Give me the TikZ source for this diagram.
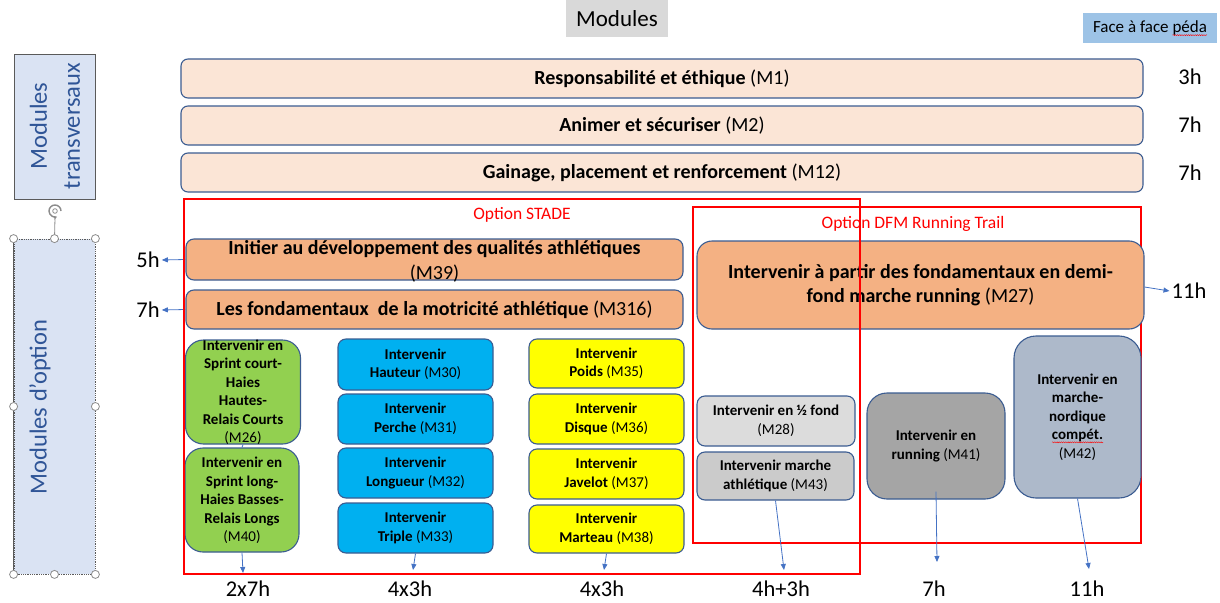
\documentclass[tikz,border=0pt]{standalone}
\usepackage{fontspec}
\setmainfont{Carlito}
\usetikzlibrary{arrows.meta,decorations.pathmorphing}

\definecolor{outl}{HTML}{3B5C91}
\definecolor{peach}{HTML}{FBE5D6}
\definecolor{orng}{HTML}{F4B183}
\definecolor{grn}{HTML}{92D050}
\definecolor{cyanbox}{HTML}{00B0F0}
\definecolor{yel}{HTML}{FFFF00}
\definecolor{grayA}{HTML}{DCDCDC}
\definecolor{grayB}{HTML}{CBCBCB}
\definecolor{grayC}{HTML}{A5A5A5}
\definecolor{slate}{HTML}{ADB9CA}
\definecolor{leftbl}{HTML}{DAE3F3}
\definecolor{lefttxt}{HTML}{2F5597}
\definecolor{hdrgray}{HTML}{D9D9D9}
\definecolor{facebl}{HTML}{9DC3E6}
\definecolor{arrbl}{HTML}{4472C4}
\definecolor{boxgray}{HTML}{5A5A5A}
\definecolor{handlegray}{HTML}{8C8C8C}
\definecolor{frame}{HTML}{FF0000}

% red wavy spell-check underline under a word
\newcommand{\spellmark}[1]{\tikz[baseline=(w.base)]{%
  \node[inner sep=0pt,outer sep=0pt,draw=none,fill=none,anchor=base,
        minimum width=0pt,minimum height=0pt,rotate=0,sharp corners](w){#1};%
  \draw[overlay,sharp corners,solid,draw=frame,fill=none,line width=0.4pt,decorate,
        decoration={snake,amplitude=0.55pt,segment length=2.2pt}]
    ([yshift=-2.6pt]w.base west) -- ([yshift=-2.6pt]w.base east);}}

\tikzset{
  base/.style={draw=outl, line width=1.1pt, inner sep=1pt, align=center, text=black},
  topmod/.style={base, fill=peach, rounded corners=7pt, minimum width=962pt,
    minimum height=39pt, font=\bfseries\fontsize{20}{24}\selectfont},
  widemod/.style={base, fill=orng, rounded corners=8pt,
    font=\bfseries\fontsize{20}{24.5}\selectfont},
  smallfont/.style={font=\bfseries\fontsize{15}{18.5}\selectfont},
  smallmod/.style={base, smallfont, rounded corners=8pt},
  bluemod/.style={smallmod, fill=cyanbox, minimum width=155pt, minimum height=50pt},
  yellowmod/.style={smallmod, fill=yel, minimum width=155pt, minimum height=49pt},
  greenmod/.style={base, fill=grn, rounded corners=18pt, minimum width=115pt, minimum height=104pt},
  boxtext/.style={align=center, inner sep=0pt, text=black},
  hourlbl/.style={font=\fontsize{22.5}{27}\selectfont, inner sep=2pt},
  arr/.style={draw=arrbl, line width=0.8pt, -{Triangle[length=6pt,width=5pt]}},
  redframe/.style={draw=frame, line width=1.4pt, fill=none, inner sep=0pt},
  framelbl/.style={text=frame, font=\fontsize{17.5}{21}\selectfont},
  handle/.style={circle, draw=handlegray, fill=white, line width=0.8pt,
    minimum size=8pt, inner sep=0pt},
  sidetxt/.style={rotate=90, align=center, text=lefttxt, font=\fontsize{24.5}{33}\selectfont}
}

\begin{document}
\begin{tikzpicture}[x=1pt,y=-1pt]
\path[use as bounding box] (0,0) rectangle (1220,602);

% heading tags
\node[fill=hdrgray, minimum width=102pt, minimum height=37pt, inner sep=0pt,
      font=\fontsize{23}{27}\selectfont] (hdr) at (617,18.5) {Modules};
\node[fill=facebl, minimum width=134pt, minimum height=30pt, inner sep=0pt,
      font=\fontsize{17}{20}\selectfont] (face) at (1150,28) {Face à face \spellmark{péda}};

% left side captions
\node[draw=boxgray, line width=0.9pt, fill=leftbl, minimum width=81pt,
      minimum height=145pt, inner sep=0pt] (trans) at (54.5,126.5) {};
\node[sidetxt] (transtxt) at (55,126) {Modules\\transversaux};

\node[fill=leftbl, draw=boxgray, densely dotted, line width=0.8pt, minimum width=81pt,
      minimum height=335pt, inner sep=0pt] (opt) at (54.5,406.5) {};
\draw[boxgray, line width=1pt] (opt.north west) -- (opt.south west);
\node[sidetxt] (opttxt) at (40,407) {Modules d’option};

% selection handles and rotation grip
\coordinate (rot) at (55,211);
\draw[handlegray, line width=0.8pt] (opt.north) -- (55,218);
\draw[handlegray, line width=1.4pt, -{Stealth[length=3.5pt,width=4pt]}]
  (rot) ++(6,0) arc[start angle=0, end angle=290, radius=6pt];
\draw[handlegray, line width=0.8pt] (rot) circle[radius=2.3pt];
\foreach \a in {north west,north,north east,west,east,south west,south,south east}
  \node[handle] (h-\a) at (opt.\a) {};

% transversal modules
\node[topmod] (m1) at (662,78.5) {Responsabilité et éthique \textmd{(M1)}};
\node[topmod] (m2) at (662,125.5) {Animer et sécuriser \textmd{(M2)}};
\node[topmod] (m12) at (662,172.5) {Gainage, placement et renforcement \textmd{(M12)}};
\node[hourlbl] (t1) at (1190,77) {3h};
\node[hourlbl] (t2) at (1190,125) {7h};
\node[hourlbl] (t3) at (1190,173) {7h};

% DFM frame sits behind its boxes
\node[redframe, minimum width=448pt, minimum height=336pt] (dfm) at (917,375) {};
\node[framelbl] (dfmlbl) at (913,224) {Option DFM Running Trail};

% option STADE: wide modules
\node[widemod, minimum width=497pt, minimum height=41pt] (m39) at (434.5,259.5) {};
\node[boxtext, font=\bfseries\fontsize{20}{25}\selectfont] (m39t) at (434.5,261)
  {Initier au développement des qualités athlétiques\\\textmd{(M39)}};
\node[widemod, minimum width=497pt, minimum height=39pt] (m316) at (434.5,309.5)
  {Les fondamentaux\ \ de la motricité athlétique \textmd{(M316)}};
\node[hourlbl] (h5) at (148,260) {5h};
\node[hourlbl] (h7) at (148,310) {7h};
\draw[arr] (m39.west) -- (h5.east);
\draw[arr] (m316.west) -- (h7.east);

% option DFM: wide module
\node[widemod, rounded corners=15pt, minimum width=447pt, minimum height=88pt] (m27) at (920.5,285)
  {Intervenir à partir des fondamentaux en demi-\\fond marche running \textmd{(M27)}};
\node[hourlbl] (h11) at (1189,291) {11h};
\draw[arr] ([yshift=-2pt]m27.east) -- (h11.west);

% sprint / hurdles / relays
\node[greenmod] (m26) at (243,392) {};
\node[boxtext, smallfont] (m26t) at (243,392.5)
  {Intervenir en\\Sprint court-\\Haies\\Hautes-\\Relais Courts\\\textmd{(M26)}};
\node[greenmod, minimum width=114pt] (m40) at (242,500) {};
\node[boxtext, smallfont] (m40t) at (242,500.5)
  {Intervenir en\\Sprint long-\\Haies Basses-\\Relais Longs\\\textmd{(M40)}};
\draw[draw=arrbl, line width=0.8pt] (m26.south) -- (m40.north);

% jumps
\node[bluemod, minimum height=51pt] (m30) at (415.5,364.5) {Intervenir\\Hauteur \textmd{(M30)}};
\node[bluemod] (m31) at (415.5,419) {Intervenir\\Perche \textmd{(M31)}};
\node[bluemod] (m32) at (415.5,473) {Intervenir\\Longueur \textmd{(M32)}};
\node[bluemod] (m33) at (415.5,528) {Intervenir\\Triple \textmd{(M33)}};

% throws
\node[yellowmod] (m35) at (606.5,363.5) {Intervenir\\Poids \textmd{(M35)}};
\node[yellowmod, minimum height=50pt] (m36) at (606.5,419) {Intervenir\\Disque \textmd{(M36)}};
\node[yellowmod, minimum height=50pt] (m37) at (606.5,474) {Intervenir\\Javelot \textmd{(M37)}};
\node[yellowmod, minimum height=48pt] (m38) at (606.5,529) {Intervenir\\Marteau \textmd{(M38)}};

% middle distance / walking / running
\node[smallmod, fill=grayA, minimum width=158pt, minimum height=50pt] (m28) at (776,421)
  {Intervenir en ½ fond\\\textmd{(M28)}};
\node[smallmod, fill=grayB, minimum width=157pt, minimum height=48pt] (m43) at (775.5,476)
  {Intervenir marche\\athlétique \textmd{(M43)}};
\node[smallmod, fill=grayC, rounded corners=20pt, minimum width=138pt, minimum height=106pt] (m41) at (936,446)
  {Intervenir en\\running \textmd{(M41)}};
\node[smallmod, fill=slate, rounded corners=22pt, minimum width=127pt, minimum height=162pt] (m42) at (1077.5,417)
  {Intervenir en\\marche-\\nordique\\\spellmark{compét.}\\\textmd{(M42)}};

% STADE frame drawn over the boxes
\node[redframe, minimum width=676pt, minimum height=375pt] (stade) at (522,386.5) {};
\node[framelbl] (stadelbl) at (522,215) {Option STADE};

% volumes per group
\node[hourlbl] (b1) at (248,589) {2x7h};
\node[hourlbl] (b2) at (410,589) {4x3h};
\node[hourlbl] (b3) at (602,589) {4x3h};
\node[hourlbl] (b4) at (781,589) {4h+3h};
\node[hourlbl] (b5) at (934,589) {7h};
\node[hourlbl] (b6) at (1087,589) {11h};

\coordinate (e1) at (243,573);
\coordinate (e2) at (413,570);
\coordinate (e3) at (604,570);
\coordinate (e4) at (784,570);
\coordinate (e5) at (937,562);
\coordinate (e6) at (1089,569);
\draw[arr] (m40.south) -- (e1);
\draw[arr] (m33.south) -- (e2);
\draw[arr] (m38.south) -- (e3);
\draw[arr] (m43.south) -- (e4);
\draw[arr] ([yshift=8pt]m41.south) -- (e5);
\draw[arr] (m42.south) -- (e6);
\end{tikzpicture}
\end{document}
